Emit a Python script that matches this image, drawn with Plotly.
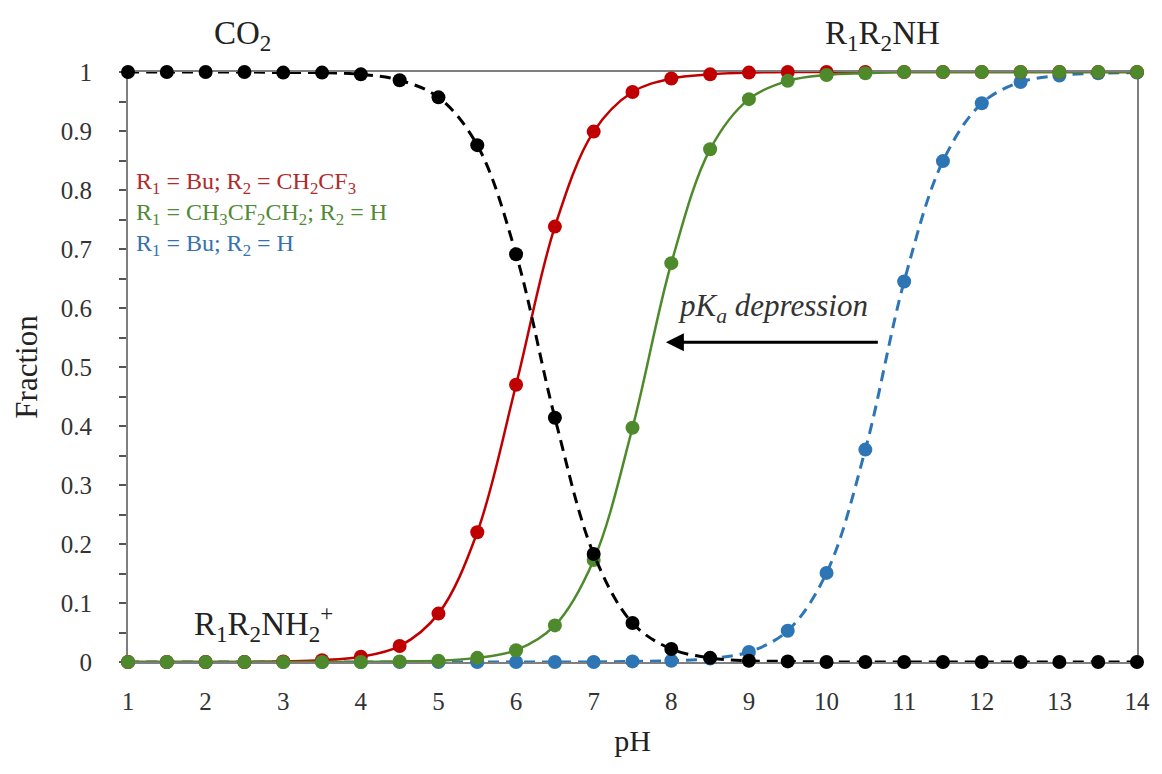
import plotly.graph_objects as go

ph = [1, 1.5, 2, 2.5, 3, 3.5, 4, 4.5, 5, 5.5, 6, 6.5, 7, 7.5, 8, 8.5, 9, 9.5,
      10, 10.5, 11, 11.5, 12, 12.5, 13, 13.5, 14]
co2 = [1, 1, 1, 1, 0.999, 0.999, 0.996, 0.986, 0.957, 0.876, 0.691, 0.414, 0.183,
       0.066, 0.022, 0.007, 0.002, 0.001, 0, 0, 0, 0, 0, 0, 0, 0, 0]
amine_cf3 = [0, 0, 0, 0, 0.001, 0.003, 0.009, 0.027, 0.082, 0.22, 0.47, 0.738, 0.899,
             0.966, 0.989, 0.996, 0.999, 1, 1, 1, 1, 1, 1, 1, 1, 1, 1]
amine_cf2 = [0, 0, 0, 0, 0, 0, 0, 0.001, 0.002, 0.007, 0.02, 0.062, 0.173, 0.397,
             0.676, 0.869, 0.954, 0.985, 0.995, 0.998, 1, 1, 1, 1, 1, 1, 1]
amine_bu = [0, 0, 0, 0, 0, 0, 0, 0, 0, 0, 0, 0, 0, 0.001, 0.002, 0.006, 0.017, 0.053,
            0.151, 0.36, 0.645, 0.849, 0.947, 0.983, 0.994, 0.998, 0.999]

legend_lines = [
    ("R<sub>1</sub> = Bu; R<sub>2</sub> = CH<sub>2</sub>CF<sub>3</sub>", "#B22A2A"),
    ("R<sub>1</sub> = CH<sub>3</sub>CF<sub>2</sub>CH<sub>2</sub>; R<sub>2</sub> = H", "#4F8A35"),
    ("R<sub>1</sub> = Bu; R<sub>2</sub> = H", "#3572AE"),
]

RED = "#C00000"
GREEN = "#4E8A2C"
BLUE = "#2E75B6"
BLACK = "#000000"
FONT = "Liberation Serif"

fig = go.Figure()

def add(y, color, dash, width):
    fig.add_trace(go.Scatter(
        x=ph, y=y, mode="lines+markers",
        line=dict(color=color, width=width, dash=dash, shape="spline", smoothing=1),
        marker=dict(color=color, size=14),
        cliponaxis=False, showlegend=False))

add(amine_bu, BLUE, "11px,7px", 3)
add(amine_cf3, RED, "solid", 2.5)
add(amine_cf2, GREEN, "solid", 2.5)
add(co2, BLACK, "11px,7px", 3)

def ann(x, y, text, size, color="#222222", xanchor="center", ref="data"):
    xr, yr = ("x", "y") if ref == "data" else ("paper", "paper")
    fig.add_annotation(x=x, y=y, xref=xr, yref=yr, text=text, showarrow=False,
                       xanchor=xanchor, yanchor="middle", align="left",
                       font=dict(family=FONT, size=size, color=color))

ann(0.113, 1.062, "CO<sub>2</sub>", 33, ref="paper")
ann(0.748, 1.062, "R<sub>1</sub>R<sub>2</sub>NH", 33, ref="paper")
ann(2.75, 0.065, "R<sub>1</sub>R<sub>2</sub>NH<sub>2</sub><sup>+</sup>", 33)
legend_text = "<br>".join(f'<span style="color:{c}">{t}</span>' for t, c in legend_lines)
ann(1.08, 0.76, legend_text, 24, "#333333", "left")
ann(9.31, 0.60, "<i>pK<sub>a</sub> depression</i>", 31, "#333333")

fig.add_annotation(x=7.93, y=0.542, ax=10.68, ay=0.542, xref="x", yref="y",
                   axref="x", ayref="y", text="", showarrow=True,
                   arrowhead=2, arrowsize=1.2, arrowwidth=3, arrowcolor="#000000")

fig.update_layout(
    width=1154, height=766,
    margin=dict(l=120, r=17, t=64, b=112),
    paper_bgcolor="white", plot_bgcolor="white",
    font=dict(family=FONT, color="#222222"),
    xaxis=dict(range=[1, 14], dtick=1, tick0=1, showgrid=False, zeroline=False,
               showline=True, linecolor="#7f7f7f", linewidth=2, mirror=True,
               ticks="", ticklabelstandoff=16, layer="below traces",
               tickfont=dict(family=FONT, size=25, color="#333333"),
               title=dict(text="pH", font=dict(family=FONT, size=30, color="#222222"),
                          standoff=16)),
    yaxis=dict(range=[0, 1], dtick=0.1, showgrid=False, zeroline=False,
               showline=True, linecolor="#7f7f7f", linewidth=2, mirror=True,
               ticks="outside", ticklen=7, tickcolor="#555555", tickwidth=1.5,
               minor=dict(dtick=0.05, ticks="outside", ticklen=7, tickcolor="#555555", tickwidth=1.5),
               ticklabelstandoff=22, layer="below traces",
               tickfont=dict(family=FONT, size=25, color="#333333"),
               title=dict(text="Fraction", font=dict(family=FONT, size=31, color="#222222"),
                          standoff=14)),
)

fig.write_html("out.html")
